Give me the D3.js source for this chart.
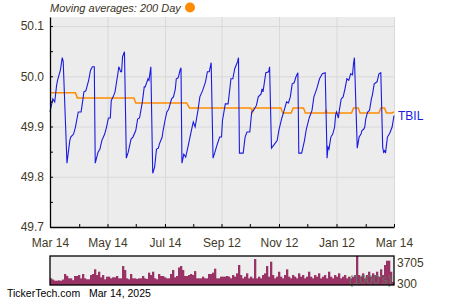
<!DOCTYPE html>
<html><head><meta charset="utf-8">
<script src="https://cdn.jsdelivr.net/npm/d3@7"></script>
<style>
body{margin:0;background:#fff}
svg{display:block;font-family:"Liberation Sans",Arial,sans-serif}
</style></head><body>
<svg id="chart" width="450" height="300"></svg>
<script>
// TBIL daily close
let price=[['2024-03-14',49.929],['2024-03-17',49.955],['2024-03-19',49.949],['2024-03-21',49.982],['2024-03-22',49.992],['2024-03-25',50.012],['2024-03-27',50.037],['2024-03-28',50.030],
['2024-04-01',49.827],['2024-04-02',49.842],['2024-04-04',49.872],['2024-04-05',49.879],['2024-04-08',49.885],['2024-04-10',49.899],['2024-04-13',49.929],['2024-04-16',49.929],['2024-04-18',49.955],['2024-04-19',49.969],['2024-04-21',49.971],['2024-04-24',49.992],['2024-04-26',50.012],['2024-04-28',50.019],['2024-04-30',50.019],
['2024-05-01',49.827],['2024-05-04',49.849],['2024-05-06',49.855],['2024-05-08',49.872],['2024-05-11',49.885],['2024-05-13',49.899],['2024-05-15',49.917],['2024-05-17',49.917],['2024-05-18',49.952],['2024-05-20',49.959],['2024-05-22',49.969],['2024-05-25',50.005],['2024-05-26',50.019],['2024-05-28',50.009],['2024-05-29',50.009],['2024-05-30',50.039],['2024-06-01',50.049],
['2024-06-03',49.837],['2024-06-05',49.849],['2024-06-08',49.875],['2024-06-10',49.879],['2024-06-13',49.892],['2024-06-15',49.915],['2024-06-17',49.917],['2024-06-20',49.949],['2024-06-22',49.979],['2024-06-23',49.979],['2024-06-26',49.995],['2024-06-27',49.992],['2024-06-29',50.019],
['2024-07-01',49.807],['2024-07-03',49.819],['2024-07-05',49.855],['2024-07-07',49.857],['2024-07-08',49.865],['2024-07-11',49.879],['2024-07-12',49.892],['2024-07-14',49.912],['2024-07-16',49.929],['2024-07-18',49.935],['2024-07-21',49.955],['2024-07-23',49.959],['2024-07-25',49.975],['2024-07-26',49.995],['2024-07-28',49.997],['2024-07-30',50.012],['2024-07-31',50.017],
['2024-08-01',49.827],['2024-08-03',49.845],['2024-08-05',49.839],['2024-08-08',49.865],['2024-08-11',49.892],['2024-08-13',49.909],['2024-08-15',49.899],['2024-08-18',49.932],['2024-08-20',49.959],['2024-08-23',49.972],['2024-08-26',49.989],['2024-08-28',50.009],['2024-08-30',50.009],['2024-09-01',50.027],
['2024-09-03',49.837],['2024-09-05',49.849],['2024-09-07',49.862],['2024-09-10',49.879],['2024-09-12',49.879],['2024-09-13',49.912],['2024-09-16',49.945],['2024-09-19',49.945],['2024-09-22',49.995],['2024-09-24',49.995],['2024-09-26',50.015],['2024-09-29',50.029],['2024-09-30',50.037],
['2024-10-01',49.847],['2024-10-05',49.847],['2024-10-07',49.879],['2024-10-09',49.889],['2024-10-12',49.889],['2024-10-14',49.929],['2024-10-16',49.932],['2024-10-19',49.942],['2024-10-21',49.959],['2024-10-24',49.965],['2024-10-25',49.975],['2024-10-26',49.969],['2024-10-29',50.007],['2024-11-01',50.009],['2024-11-02',50.019],
['2024-11-04',49.857],['2024-11-08',49.867],['2024-11-10',49.872],['2024-11-12',49.894],['2024-11-15',49.917],['2024-11-17',49.929],['2024-11-20',49.949],['2024-11-22',49.947],['2024-11-24',49.959],['2024-11-26',49.985],['2024-11-28',49.987],['2024-11-30',49.999],['2024-12-02',50.007],
['2024-12-03',49.847],['2024-12-06',49.847],['2024-12-09',49.872],['2024-12-11',49.895],['2024-12-14',49.917],['2024-12-17',49.932],['2024-12-19',49.959],['2024-12-22',49.975],['2024-12-25',49.995],['2024-12-28',50.005],['2024-12-31',50.007],
['2025-01-02',49.837],['2025-01-03',49.859],['2025-01-04',49.855],['2025-01-06',49.879],['2025-01-08',49.885],['2025-01-10',49.899],['2025-01-11',49.922],['2025-01-12',49.929],['2025-01-14',49.917],['2025-01-15',49.932],['2025-01-17',49.955],['2025-01-19',49.959],['2025-01-21',49.975],['2025-01-23',49.995],['2025-01-25',49.992],['2025-01-27',50.005],['2025-01-29',50.003],['2025-01-30',50.025],['2025-01-31',50.037],
['2025-02-03',49.857],['2025-02-05',49.879],['2025-02-07',49.885],['2025-02-08',49.892],['2025-02-10',49.895],['2025-02-11',49.899],['2025-02-12',49.915],['2025-02-14',49.929],['2025-02-16',49.932],['2025-02-18',49.955],['2025-02-19',49.962],['2025-02-21',49.985],['2025-02-24',49.989],['2025-02-26',50.005],['2025-02-28',50.007],
['2025-03-02',49.859],['2025-03-03',49.849],['2025-03-04',49.852],['2025-03-05',49.847],['2025-03-07',49.879],['2025-03-09',49.885],['2025-03-10',49.889],['2025-03-12',49.899],['2025-03-14',49.922]]

// 200 day moving average
let ma200=[['2024-03-14',49.967],['2024-04-10',49.967],['2024-04-12',49.957],['2024-06-11',49.957],['2024-06-13',49.947],['2024-08-06',49.947],['2024-08-09',49.937],['2024-10-13',49.937],['2024-10-15',49.929],['2024-10-16',49.937],['2024-11-14',49.937],['2024-11-16',49.927],['2024-11-25',49.927],['2024-11-27',49.937],['2024-12-08',49.937],['2024-12-10',49.927],['2024-12-31',49.927],['2025-01-01',49.932],['2025-01-02',49.927],['2025-01-28',49.927],['2025-01-30',49.937],['2025-02-04',49.937],['2025-02-06',49.927],['2025-02-26',49.927],['2025-02-28',49.937],['2025-03-04',49.937],['2025-03-06',49.927],['2025-03-12',49.927],['2025-03-14',49.929]]

// volume in 1000's, left to right
let volume=[1100,900,710,710,760,710,900,1820,1500,1100,
1100,800,1490,1490,1650,1100,1820,1100,940,940,
1650,1820,2600,1650,2200,1270,1650,940,1380,1380,
1100,1270,1270,1490,1100,1100,3140,2480,1100,940,
1820,1100,1100,1000,1100,1100,1490,1100,1000,2040,
1650,2200,1100,940,1820,1490,1490,1270,1100,1100,
1820,2480,1270,1490,2900,3140,2480,1490,1490,1650,
1820,1650,2300,1100,1100,1100,1380,1100,1100,1820,
1820,2040,2700,1100,1100,1380,1380,1380,1490,1380,
1100,1650,1380,1930,3310,1650,1100,1380,1930,1100,
1380,1100,4300,1100,1380,1100,1650,1930,3140,1380,
3860,1650,1100,1380,2200,1380,1100,1650,2590,1380,
1100,1650,1380,1100,1930,1380,1650,1100,1380,2200,
1380,1100,1650,1380,1930,1100,1380,1650,1100,2200,
1380,1100,1650,1380,1930,1100,1380,1650,1100,1380,
1100,1380,1650,4800,1650,1380,1930,1100,1650,2200,
1380,1930,1650,2200,1380,2590,1650,3310,4020,4020,2200,500]

let xTicks=['2024-03-14','2024-04-14','2024-05-14','2024-06-13','2024-07-14','2024-08-13','2024-09-12','2024-10-12','2024-11-12','2024-12-12','2025-01-12','2025-02-12','2025-03-14']
let xLabels=['Mar 14','May 14','Jul 14','Sep 12','Nov 12','Jan 12','Mar 14']
let yTicks=[49.7,49.75,49.8,49.85,49.9,49.95,50.0,50.05,50.1]
let volTicks=[300,3705]

let parse=d3.timeParse('%Y-%m-%d')
let svg=d3.select('#chart')
let pl=50,pr=394,pt=17,pb=227
let vt=256,vb=285
let txt='#433a26'

let x=d3.scaleTime().domain([parse('2024-03-14'),parse('2025-03-14')]).range([pl,pr])
let y=d3.scaleLinear().domain([49.7,50.118]).range([pb,pt])

svg.append('rect').attr('x',pl).attr('y',pt).attr('width',pr-pl).attr('height',pb-pt).attr('fill','#ececec')

// grid
let major=xTicks.filter((d,i)=>i%2==0).map(parse)
svg.append('g').attr('transform','translate(0,'+pb+')')
  .call(d3.axisBottom(x).tickValues(major).tickSize(-(pb-pt)).tickFormat(''))
  .call(g=>g.select('.domain').remove())
  .selectAll('line').attr('stroke','#d9d9d9')
svg.append('g').attr('transform','translate('+pl+',0)')
  .call(d3.axisLeft(y).tickValues(yTicks.filter((d,i)=>i%2==0)).tickSize(-(pr-pl)).tickFormat(''))
  .call(g=>g.select('.domain').remove())
  .selectAll('line').attr('stroke','#d9d9d9')

let line=d3.line().x(d=>x(parse(d[0]))).y(d=>y(d[1]))
svg.append('path').datum(ma200).attr('d',line).attr('fill','none').attr('stroke','#ff8c00').attr('stroke-width',1.5)
svg.append('path').datum(price).attr('d',line).attr('fill','none').attr('stroke','#1a1ae0').attr('stroke-width',1.1)

// axes
let ya=svg.append('g').attr('transform','translate('+pl+',0)')
  .call(d3.axisLeft(y).tickValues(yTicks).tickSize(-3).tickSizeOuter(0).tickPadding(6).tickFormat((d,i)=>i%2==0?d3.format('.1f')(d):''))
let xa=svg.append('g').attr('transform','translate(0,'+pb+')')
  .call(d3.axisBottom(x).tickValues(xTicks.map(parse)).tickSize(-3).tickSizeOuter(0).tickPadding(11).tickFormat((d,i)=>i%2==0?xLabels[i/2]:''))
;[ya,xa].forEach(a=>{
  a.select('.domain').attr('stroke','#000').attr('stroke-width',1.3)
  a.selectAll('line').attr('stroke','#000')
  a.selectAll('text').attr('fill',txt).style('font-size','12px')
})

svg.append('text').attr('x',398).attr('y',y(price[price.length-1][1])).attr('dy','0.35em')
  .text('TBIL').attr('fill','#1a1ae0').style('font-size','12px')

svg.append('text').attr('x',50).attr('y',12).text('Moving averages: 200 Day')
  .attr('fill','#3a3326').style('font-size','11px').style('font-style','italic')
svg.append('circle').attr('cx',190).attr('cy',7.5).attr('r',5).attr('fill','#ff8c00')

// volume panel
let vx=d3.scaleBand().domain(d3.range(volume.length)).range([pl,pr])
let vy=d3.scaleLinear().domain([0,4800]).range([vb,vt])
svg.append('rect').attr('x',pl).attr('y',vt).attr('width',pr-pl).attr('height',vb-vt).attr('fill','#eeeeee')
svg.append('g').selectAll('rect').data(volume).enter().append('rect')
  .attr('x',(d,i)=>vx(i)).attr('width',vx.bandwidth()+0.3)
  .attr('y',d=>vy(d)).attr('height',d=>vb-vy(d)).attr('fill','#993366')
svg.append('text').attr('x',392).attr('y',vy(300)).attr('dy','0.1em').attr('text-anchor','end')
  .text("(1000's)").attr('fill','#5d7f5d').attr('opacity',0.85).style('font-size','12px')
svg.append('rect').attr('x',pl).attr('y',vt).attr('width',pr-pl).attr('height',vb-vt).attr('fill','none').attr('stroke','#000').attr('stroke-width',1.3)
svg.append('g').attr('transform','translate('+pr+',0)')
  .call(d3.axisRight(vy).tickValues(volTicks).tickSize(0).tickPadding(3).tickFormat(d3.format('d')))
  .call(g=>g.select('.domain').remove())
  .selectAll('text').attr('fill',txt).style('font-size','12px')

svg.append('text').attr('x',7).attr('y',297).text('TickerTech.com').attr('fill','#000').style('font-size','10.5px')
svg.append('text').attr('x',89).attr('y',297).text('Mar 14, 2025').attr('fill','#000').style('font-size','10.5px')
</script>
</body></html>
